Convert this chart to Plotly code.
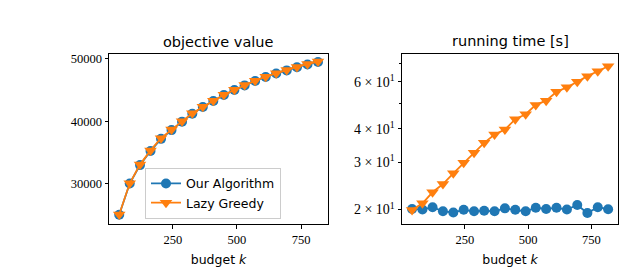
import plotly.graph_objects as go
from plotly.subplots import make_subplots

budget = [41, 82, 122, 163, 204, 245, 286, 326, 367, 408, 449, 490, 530, 571, 612, 653, 694, 734, 775, 816]
obj_ours = [25050, 30050, 33000, 35250, 37200, 38600, 39950, 41200, 42300, 43250, 44200, 45000, 45750, 46450, 47100, 47650, 48150, 48650, 49100, 49500]
obj_lazy = [25100, 30100, 33080, 35350, 37300, 38700, 40000, 41280, 42350, 43300, 44250, 45050, 45800, 46500, 47150, 47700, 48200, 48700, 49150, 49550]
time_ours = [20.1, 20.0, 20.4, 19.7, 19.5, 19.95, 19.7, 19.8, 19.7, 20.2, 19.95, 19.7, 20.3, 20.1, 20.3, 20.0, 20.8, 19.4, 20.4, 20.05]
time_lazy = [19.9, 21.1, 23.2, 24.9, 27.3, 29.9, 32.6, 35.5, 38.1, 39.8, 43.5, 45.4, 49.2, 51.0, 55.1, 57.2, 60.0, 63.0, 65.7, 68.6]
x_ticks = [250, 500, 750]
left_y_ticks = [30000, 40000, 50000]
left_y_text = ["30000", "40000", "50000"]
right_y_ticks = [20, 30, 40, 60]
right_y_text = ["2\u00a0×\u00a010<sup>1</sup>", "3\u00a0×\u00a010<sup>1</sup>",
                "4\u00a0×\u00a010<sup>1</sup>", "6\u00a0×\u00a010<sup>1</sup>"]
right_minor = [50, 70]

BLUE = "#1f77b4"
ORANGE = "#ff7f0e"
SERIF = "Liberation Serif"
SANS = "DejaVu Sans"

fig = make_subplots(rows=1, cols=2)

fig.add_trace(go.Scatter(x=budget, y=obj_ours, mode="lines+markers", name="Our Algorithm",
                         line=dict(color=BLUE, width=1.8), marker=dict(symbol="circle", size=10, color=BLUE)),
              row=1, col=1)
fig.add_trace(go.Scatter(x=budget, y=obj_lazy, mode="lines+markers", name="Lazy Greedy",
                         line=dict(color=ORANGE, width=1.8), marker=dict(symbol="triangle-down", size=11, color=ORANGE)),
              row=1, col=1)
fig.add_trace(go.Scatter(x=budget, y=time_ours, mode="lines+markers", name="Our Algorithm", showlegend=False,
                         line=dict(color=BLUE, width=1.8), marker=dict(symbol="circle", size=10, color=BLUE)),
              row=1, col=2)
fig.add_trace(go.Scatter(x=budget, y=time_lazy, mode="lines+markers", name="Lazy Greedy", showlegend=False,
                         line=dict(color=ORANGE, width=1.8), marker=dict(symbol="triangle-down", size=11, color=ORANGE)),
              row=1, col=2)

H = 277
ydom = [(H - 224) / H, (H - 52.5) / H]
axis_common = dict(showline=True, linecolor="black", linewidth=1, mirror=True, ticks="outside",
                   ticklen=3.5, tickwidth=0.8, tickcolor="black", showgrid=False, zeroline=False,
                   tickfont=dict(family=SERIF, size=12.5, color="black"))

fig.update_xaxes(axis_common)
fig.update_yaxes(axis_common)

xt_font = dict(family=SANS, size=12.5, color="black")
fig.update_layout(
    xaxis=dict(domain=[109 / 627, 328 / 627], range=[1.2, 855], tickvals=x_ticks,
               title=dict(text="budget <i>k</i>", font=xt_font, standoff=9)),
    xaxis2=dict(domain=[402 / 627, 618 / 627], range=[1.2, 855], tickvals=x_ticks,
                title=dict(text="budget <i>k</i>", font=xt_font, standoff=9)),
    yaxis=dict(domain=ydom, range=[23520, 50750], tickvals=left_y_ticks, ticktext=left_y_text),
    yaxis2=dict(domain=ydom, type="log", range=[1.2455, 1.8816], tickvals=right_y_ticks, ticktext=right_y_text,
                tickfont=dict(family=SERIF, size=14, color="black"),
                minor=dict(tickvals=right_minor, ticks="outside", ticklen=2, tickcolor="black")),
    width=627, height=277, margin=dict(l=0, r=0, t=0, b=0),
    paper_bgcolor="white", plot_bgcolor="white",
    legend=dict(x=145 / 627, y=(H - 167) / H, xanchor="left", yanchor="top",
                bgcolor="rgba(255,255,255,0.8)", bordercolor="#cccccc", borderwidth=1,
                font=dict(family=SANS, size=12.5, color="black"), itemwidth=30, tracegroupgap=0),
    annotations=[
        dict(text="objective value", x=(109 + 328) / 2 / 627, y=(H - 40) / H, xref="paper", yref="paper",
             showarrow=False, font=dict(family=SANS, size=14.5, color="black"), xanchor="center", yanchor="middle"),
        dict(text="running time [s]", x=(402 + 618) / 2 / 627, y=(H - 39) / H, xref="paper", yref="paper",
             showarrow=False, font=dict(family=SANS, size=14.5, color="black"), xanchor="center", yanchor="middle"),
    ],
)

fig.write_html("out.html")
